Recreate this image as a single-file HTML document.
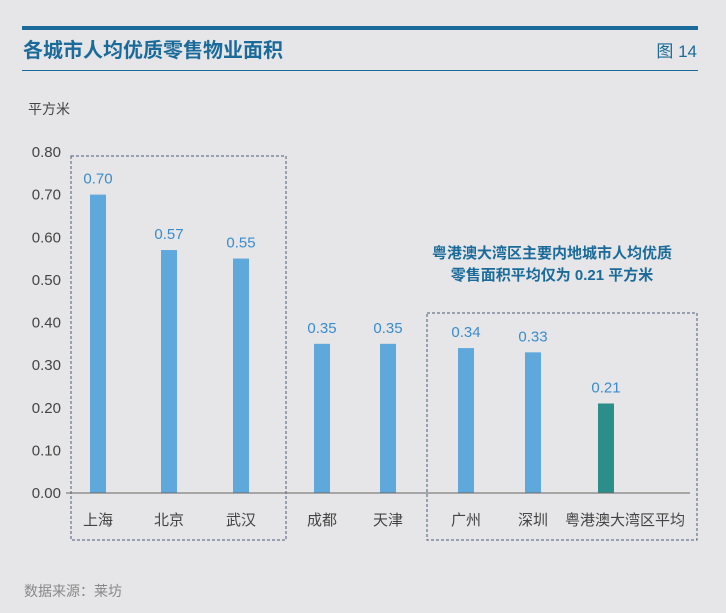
<!DOCTYPE html>
<html><head><meta charset="utf-8"><style>
body{margin:0;background:#e6e6e8;}
svg{display:block;font-family:"Liberation Sans","Noto Sans CJK SC",sans-serif;}
</style></head><body>
<svg width="726" height="613">
<rect width="726" height="613" fill="#e6e6e8"/>
<rect x="22" y="26" width="676" height="4" fill="#1a6a9a"/>
<text x="23" y="57" font-size="20" font-weight="bold" fill="#1a6a9a">各城市人均优质零售物业面积</text>
<text x="697" y="57" font-size="17" fill="#1a6a9a" text-anchor="end">图 14</text>
<rect x="22" y="70" width="676" height="1" fill="#1a6a9a"/>
<text x="28" y="114" font-size="14" fill="#444">平方米</text>
<rect x="71" y="156" width="215" height="384" fill="none" stroke="#4a5a7a" stroke-dasharray="3,2"/>
<rect x="427" y="313" width="270" height="227" fill="none" stroke="#4a5a7a" stroke-dasharray="3,2"/>
<text x="552" y="258" font-size="15" font-weight="bold" fill="#1a6a9a" text-anchor="middle">粤港澳大湾区主要内地城市人均优质</text>
<text x="552" y="280" font-size="15" font-weight="bold" fill="#1a6a9a" text-anchor="middle">零售面积平均仅为 0.21 平方米</text>
<g id="plot"></g>
<text x="24" y="596" font-size="14" fill="#888">数据来源：莱坊</text>
</svg>
<script>
const categories=["上海","北京","武汉","成都","天津","广州","深圳","粤港澳大湾区平均"];
const values=[0.70,0.57,0.55,0.35,0.35,0.34,0.33,0.21];
const labels=["0.70","0.57","0.55","0.35","0.35","0.34","0.33","0.21"];
const ticks=[0,0.1,0.2,0.3,0.4,0.5,0.6,0.7,0.8];
const tickLabels=["0.00","0.10","0.20","0.30","0.40","0.50","0.60","0.70","0.80"];
const centers=[98,169,241,322,388,466,533,606];
const labelOffsets=[0,0,0,0,0,0,0,19];
const ns="http://www.w3.org/2000/svg";
const g=document.getElementById('plot');
const y=v=>493-v/0.8*341;
function mk(t,a,txt){const e=document.createElementNS(ns,t);for(const k in a)e.setAttribute(k,a[k]);if(txt!=null)e.textContent=txt;g.appendChild(e);return e;}
ticks.forEach((t,i)=>{
 const e=mk('text',{x:61,y:y(t)+5,'font-size':15,fill:'#444','text-anchor':'end'},tickLabels[i]);
 
 
});
values.forEach((v,i)=>{
 const last=i===values.length-1;
 const b=mk('rect',{x:centers[i]-8,y:y(v),width:16,height:493-y(v),fill:last?'#2a8f8a':'#5fa8dc'});
 
 
 const l=mk('text',{x:centers[i],y:y(v)-11,'font-size':15,fill:'#3a8ccc','text-anchor':'middle'},labels[i]);
 
 
 const c=mk('text',{x:centers[i]+labelOffsets[i],y:525,'font-size':15,fill:'#444','text-anchor':'middle'},categories[i]);
 
 
});
const ax=mk('line',{x1:66,x2:690,y1:493,y2:493,stroke:'#666','stroke-width':1});


</script>
</body></html>
